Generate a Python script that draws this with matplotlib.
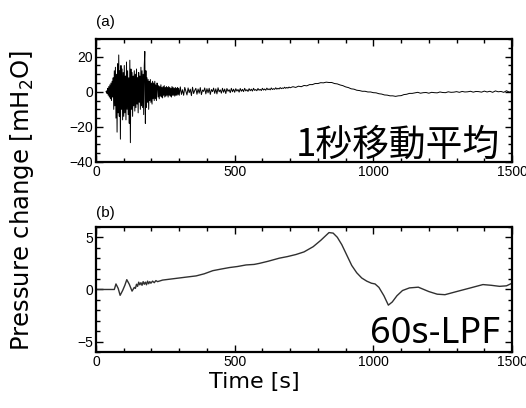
import numpy as np
import matplotlib
matplotlib.use("Agg")
import matplotlib.pyplot as plt
from matplotlib.ticker import MultipleLocator

plt.rcParams['font.family'] = ['Liberation Sans', 'DejaVu Sans']
plt.rcParams['mathtext.fontset'] = 'dejavusans'

# ---- panel (a): 1-s moving average ----
a_v_early = [  # t = 36 ... 300 s, every 2 s
    0, 0.5, -1, 2, -2, 3, -3, 4, -4, 5, -5, 6, -3,
    8, -10, 12, -8, 14, -15, 10, -23, 16, -12, 21, -14, 12, -27, 15, -10, 13, -16, 11, -14,
    15, -12, 9, -16, 17, -10, 12, -13, 8, -18, 18, -29, 13, -10, 11, -14, 9, -8, 12, -11,
    10, -9, 13, -7, 8, -12, 11, -6, 9, -10, 14, -8, 12, -9, 10, -13, 15, 23, -18, 12,
    -9, 8, -6, 7, -10, 6, -5, 7, -6, 5, -7, 6, -4, 5, -5, 6, -4, 4, -5, 5,
    4, -3, 3.5, -4, 3, -2.5, 4, -3, 2.5, -3.5, 3, -2, 3.5, -3, 2.5, -2.5, 3, -2, 2.5, -3,
    3, -2, 2.5, -2.5, 2, -3, 3, -2, 2.5, -2, 2, -2.5, 2.5, -2, 2, -2, 2.5, -1.5, 2, -2,
]
a_v_mid = [  # t = 304 ... 700 s, every 4 s
    2.8, -1.5, 1.2, -2.0, 2.5, 0.3, -1.8, 2.2, -0.5, 1.5,
    -2.2, 2.6, -1.0, 0.8, 2.0, -1.4, 1.6, -0.8, 2.4, -1.6,
    1.0, 0.2, 2.2, -1.2, 1.8, -0.6, 2.0, -1.5, 1.3, 0.1,
    2.1, -0.9, 1.7, -1.2, 2.3, 0.0, 1.1, -0.8, 2.0, -0.3,
    1.6, -1.0, 1.9, 0.3, 1.2, -0.5, 2.0, 0.0, 1.5, -0.3,
    1.8, 0.4, 1.3, -0.2, 1.9, 0.3, 1.4, 0.1, 2.0, 0.5,
    1.2, 0.2, 1.8, 0.6, 1.5, 0.4, 2.0, 0.8, 1.3, 0.6,
    1.9, 0.9, 1.4, 0.7, 2.0, 1.0, 1.6, 0.9, 2.1, 1.2,
    1.7, 1.1, 2.2, 1.3, 1.8, 1.4, 2.3, 1.5, 2.0, 1.6,
    2.4, 1.8, 2.2, 1.9, 2.6, 2.0, 2.5, 2.1, 2.7, 2.3,
]
a_v_late = [  # t = 710 ... 1500 s, every 10 s
    2.9, 2.5, 3.2, 2.9, 3.6, 3.4, 4.1, 4.1, 4.7, 4.7,
    5.2, 5.1, 5.5, 5.3, 5.3, 4.7, 4.5, 3.9, 3.5, 2.8,
    2.4, 1.7, 1.5, 0.9, 0.7, 0.3, 0.3, -0.1, -0.1, -0.5,
    -0.6, -1.1, -1.3, -1.8, -1.9, -2.3, -2.3, -2.6, -2.3, -2.2,
    -1.6, -1.4, -0.9, -0.9, -0.6, -0.3, -0.8, -0.5, -0.4, -0.8,
    -0.3, -0.5, -0.6, -0.1, -0.4, -0.5, 0.0, -0.3, -0.2, 0.1,
    -0.3, 0.2, -0.1, 0.0, 0.3, -0.2, 0.2, 0.1, -0.2, 0.4,
    -0.1, 0.3, -0.3, 0.5, 0.0, 0.2, -0.3, 0.6, -0.2, 0.4,
]
a_t = np.concatenate([36 + 2 * np.arange(len(a_v_early)),
                      304 + 4 * np.arange(len(a_v_mid)),
                      710 + 10 * np.arange(len(a_v_late))])
a_v = a_v_early + a_v_mid + a_v_late

# ---- panel (b): 60-s low-pass filtered ----
b_t = [0, 66, 72, 80, 87, 96, 104, 111, 120, 130, 138, 142, 146, 150, 154, 158,
       162, 166, 170, 174, 178, 182, 186, 190, 194, 198, 204, 210, 216, 222, 240,
       270, 300, 330, 361, 390, 421, 450, 481, 510, 541, 570, 589, 620, 661, 690,
       721, 750, 783, 810, 830, 840, 855, 870, 886, 904, 922, 940, 958, 976, 993,
       1006, 1020, 1038, 1054, 1068, 1085, 1105, 1130, 1162, 1200, 1230, 1258,
       1300, 1350, 1395, 1425, 1455, 1480, 1500]
b_v = [0, 0, 0.53, 0.1, -0.56, -0.1, 0.4, 0.94, 0.5, -0.16, 0.2, 0.1, 0.5, 0.3,
       0.7, 0.45, 0.65, 0.4, 0.75, 0.5, 0.7, 0.45, 0.8, 0.55, 0.75, 0.6, 0.8, 0.65,
       0.85, 0.75, 0.9, 1.0, 1.1, 1.2, 1.3, 1.5, 1.8, 1.95, 2.1, 2.2, 2.35, 2.4,
       2.5, 2.7, 3.0, 3.15, 3.35, 3.6, 4.1, 4.7, 5.2, 5.45, 5.4, 5.0, 4.3, 3.3,
       2.3, 1.6, 1.1, 0.8, 0.6, 0.53, 0.2, -0.6, -1.5, -1.2, -0.6, -0.1, 0.15,
       0.22, -0.2, -0.45, -0.5, -0.2, 0.15, 0.47, 0.4, 0.3, 0.35, 0.6]

xticks = [0, 500, 1000, 1500]

fig = plt.figure(figsize=(5.26, 4.08), dpi=100)
ax1 = fig.add_axes([0.1825, 0.603, 0.791, 0.301])
ax2 = fig.add_axes([0.1825, 0.137, 0.791, 0.307])

ax1.plot(a_t, a_v, color='black', lw=0.7)
ax2.plot(b_t, b_v, color='#303030', lw=1.0)

ax1.set_ylim(-40, 30)
ax1.set_yticks([-40, -20, 0, 20])
ax1.yaxis.set_minor_locator(MultipleLocator(5))
ax2.set_ylim(-6, 6)
ax2.set_yticks([-5, 0, 5])
ax2.yaxis.set_minor_locator(MultipleLocator(1))

for ax in (ax1, ax2):
    ax.set_xlim(0, 1500)
    ax.set_xticks(xticks)
    ax.xaxis.set_minor_locator(MultipleLocator(100))
    ax.tick_params(which='both', direction='in', top=True, right=True,
                   labelsize=10, width=1.0, pad=2)
    ax.tick_params(which='major', length=5)
    ax.tick_params(which='minor', length=3)
    for s in ax.spines.values():
        s.set_linewidth(1.6)

fig.text(0.183, 0.93, '(a)', fontsize=11, ha='left', va='bottom')
fig.text(0.183, 0.462, '(b)', fontsize=11, ha='left', va='bottom')

ax1.text(0.97, -0.02, '1秒移動平均', transform=ax1.transAxes, ha='right',
         va='bottom', fontsize=26.5, family=['Noto Sans CJK JP', 'DejaVu Sans'])
ax2.text(0.97, 0.0, '60s-LPF', transform=ax2.transAxes, ha='right',
         va='bottom', fontsize=26, family=['Noto Sans', 'DejaVu Sans'])

fig.text(0.042, 0.51, r'Pressure change [mH$_2$O]', rotation=90, ha='center',
         va='center', fontsize=17.5, family=['DejaVu Sans'])
fig.text(0.483, 0.064, 'Time [s]', ha='center', va='center', fontsize=16,
         family=['DejaVu Sans'])

fig.savefig('out.png', dpi=100)
